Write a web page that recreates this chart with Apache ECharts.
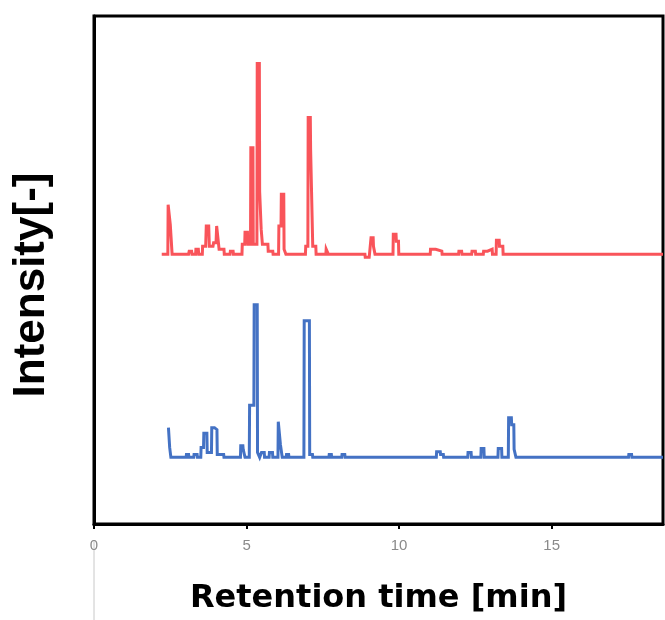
<!DOCTYPE html>
<html><head><meta charset="utf-8">
<script src="https://cdn.jsdelivr.net/npm/echarts@6/dist/echarts.min.js"></script>
<style>html,body{margin:0;padding:0;background:#fff}#c{width:665px;height:620px}</style>
</head><body><div id="c"></div>
<script>
// Retention time [min] and intensity (arbitrary units) for each trace
const redTime = [2.22,2.42,2.43,2.49,2.50,2.55,2.56,3.10,3.12,3.20,3.21,3.33,3.34,3.42,3.43,3.55,3.56,3.66,3.68,3.76,3.78,3.90,3.92,4.00,4.02,4.08,4.10,4.26,4.27,4.46,4.47,4.56,4.57,4.85,4.86,4.94,4.95,5.03,5.04,5.13,5.14,5.21,5.22,5.34,5.35,5.42,5.43,5.47,5.48,5.52,5.70,5.71,5.86,5.87,6.05,6.06,6.13,6.14,6.22,6.23,6.28,6.29,6.93,6.94,7.01,7.02,7.09,7.10,7.16,7.17,7.27,7.28,7.60,7.61,7.67,7.68,8.88,8.89,9.02,9.03,9.08,9.15,9.16,9.20,9.21,9.80,9.81,9.90,9.91,9.98,9.99,11.02,11.03,11.20,11.21,11.40,11.41,11.95,11.96,12.05,12.06,12.38,12.39,12.50,12.51,12.76,12.77,12.90,12.91,13.05,13.06,13.18,13.19,13.28,13.29,13.40,13.41,18.65];
const redInt  = [0,0,50,50,30,30,0,0,3,3,0,0,5,5,0,0,8,8,28.5,28.5,8,8,11.5,11.5,28.5,28.5,5,5,0,0,3,3,0,0,10,10,22,22,10,10,107.5,107.5,10,10,192.5,192.5,63,63,25,10,10,3,3,0,0,28.5,28.5,60.5,60.5,5,5,0,0,8,8,138,138,106,106,8,8,0,0,5,5,0,0,-3,-3,0,16.5,16.5,8,8,0,0,20,20,13,13,0,0,5,5,3,3,0,0,3,3,0,0,3,3,0,0,3,3,5,5,0,0,14,14,8,8,0,0];
const blueTime = [2.44,2.47,2.48,2.51,2.52,3.02,3.03,3.10,3.11,3.27,3.28,3.38,3.39,3.50,3.51,3.59,3.60,3.70,3.71,3.85,3.86,3.95,3.96,4.03,4.04,4.25,4.26,4.80,4.81,4.88,4.89,4.94,4.95,5.09,5.10,5.24,5.25,5.35,5.36,5.42,5.43,5.48,5.49,5.58,5.59,5.74,5.75,5.85,5.86,6.03,6.04,6.10,6.11,6.16,6.17,6.30,6.31,6.38,6.39,6.88,6.89,7.06,7.07,7.16,7.17,7.70,7.71,7.78,7.79,8.12,8.13,8.22,8.23,11.22,11.23,11.35,11.36,11.45,11.46,12.25,12.26,12.36,12.37,12.68,12.69,12.78,12.79,13.24,13.25,13.36,13.37,13.58,13.59,13.68,13.69,13.76,13.77,13.82,13.83,17.52,17.53,17.62,17.63,18.65];
const blueInt  = [30,30,10,10,0,0,3,3,0,0,3,3,0,0,10,10,24.3,24.3,5,5,30,30,28,28,3,3,0,0,11.7,11.7,8,8,0,0,52.7,52.7,154,154,5,5,0,0,5,5,0,0,5,5,0,0,36,36,13,13,0,0,3,3,0,0,138,138,3,3,0,0,3,3,0,0,3,3,0,0,5.7,5.7,3,3,0,0,5,5,0,0,9,9,0,0,9,9,0,0,40,40,33,33,8,8,0,0,3,3,0,0];
const redOffset = 272.5;   // vertical offset of the upper trace
const blueOffset = 67.3;   // vertical offset of the lower trace
const xTicks = [0, 5, 10, 15];

const redData = redTime.map((t, i) => [t, redOffset + redInt[i]]);
const blueData = blueTime.map((t, i) => [t, blueOffset + blueInt[i]]);

const chart = echarts.init(document.getElementById('c'), null, {renderer: 'canvas'});
chart.setOption({
  animation: false,
  graphic: [{type: 'line', shape: {x1: 94, y1: 540, x2: 94, y2: 620}, style: {stroke: '#c8c8c8', lineWidth: 1}, z: 0}],
  grid: {left: 94, top: 16, width: 569, height: 513, show: true, borderColor: '#000', borderWidth: 3, backgroundColor: 'transparent'},
  xAxis: {
    type: 'value', min: 0, max: 18.65, interval: 5,
    axisLine: {show: true, lineStyle: {color: '#000', width: 3}},
    axisTick: {show: true, length: 5, lineStyle: {color: '#000', width: 2}},
    axisLabel: {color: '#8a8a8a', fontSize: 15, fontFamily: 'Liberation Sans Narrow, Liberation Sans, sans-serif', margin: 14, showMaxLabel: false,
      formatter: v => xTicks.includes(v) ? String(v) : ''},
    splitLine: {show: false},
    name: 'Retention time [min]', nameLocation: 'middle', nameGap: 59,
    nameTextStyle: {color: '#000', fontSize: 32, fontWeight: 'bold', fontFamily: 'DejaVu Sans, sans-serif'}
  },
  yAxis: {
    type: 'value', min: 0, max: 513,
    axisLine: {show: true, lineStyle: {color: '#000', width: 3}},
    axisTick: {show: false}, axisLabel: {show: false}, splitLine: {show: false},
    name: 'Intensity[-]', nameLocation: 'middle', nameGap: 40, nameRotate: 90,
    nameTextStyle: {color: '#000', fontSize: 44, fontWeight: 'bold', fontFamily: 'Liberation Sans, Arial, sans-serif', padding: [0, 30, 0, 0]}
  },
  series: [
    {type: 'line', data: redData, showSymbol: false, symbol: 'none', lineStyle: {color: '#F9545A', width: 3, join: 'miter'}, z: 2},
    {type: 'line', data: blueData, showSymbol: false, symbol: 'none', lineStyle: {color: '#4472C4', width: 3, join: 'miter'}, z: 3}
  ]
});
</script></body></html>
